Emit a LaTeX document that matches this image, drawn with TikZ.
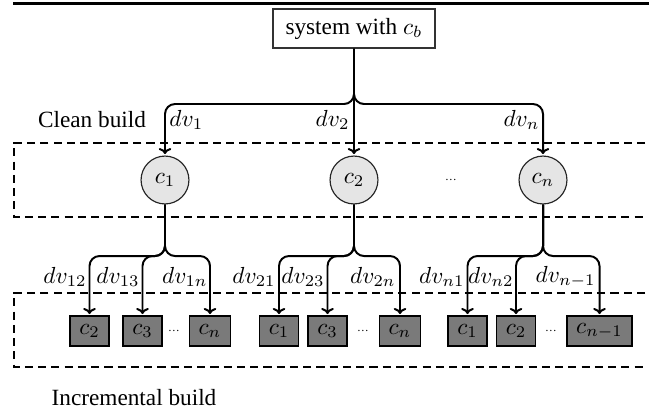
\documentclass[tikz,border=0pt]{standalone}
\usepackage{fontspec}
\setmainfont{Liberation Serif}
\usetikzlibrary{arrows.meta}
\begin{document}
\begin{tikzpicture}[x=0.43pt,y=-0.43pt,
  conn/.style={line width=0.85pt, rounded corners=4.3pt, -{Computer Modern Rightarrow[length=2.6pt,width=5.4pt]}, shorten >=0.6pt},
  sysbox/.style={draw=black!80, line width=0.5pt, minimum width=69.7pt, minimum height=16.8pt, inner sep=0pt},
  compcirc/.style={circle, draw=black!85, fill=black!10, line width=0.5pt, minimum size=20.6pt, inner sep=0pt},
  compsq/.style={draw=black, fill=black!52, line width=0.5pt, minimum width=15pt, minimum height=12.9pt, inner xsep=4pt, inner ysep=0pt},
  lbl/.style={anchor=east, inner sep=0pt},
  lblw/.style={anchor=west, inner sep=0pt},
  zone/.style={dash pattern=on 3.5pt off 2.2pt, line width=0.8pt},
  dotsl/.style={font=\tiny, inner sep=0pt},
  rule/.style={line width=1pt}]
\useasboundingbox (0,0) rectangle (649,411);

% top rule
\draw[rule] (13,3.5) -- (649,3.5);

% dashed zones (open to the right)
\draw[zone] (645,143) -- (14,143) -- (14,217) -- (645,217);
\draw[zone] (645,293) -- (14,293) -- (14,367) -- (645,367);

% nodes
\node[sysbox] (sys) at (354,28.5) {system with $c_b$};
\node (clean) at (92,120) {Clean build};
\node (incr) at (134,398) {Incremental build};

\node[compcirc] (c1) at (165,180) {$c_1$};
\node[compcirc] (c2) at (354,180) {$c_2$};
\node[compcirc] (cn) at (543,180) {$c_n$};
\node[dotsl] (cdots) at (451,180) {…};

\node[compsq] (s12) at (89.5,331) {$c_2$};
\node[compsq] (s13) at (142.5,331) {$c_3$};
\node[compsq] (s1n) at (210,331) {$c_n$};
\node[dotsl] (d1) at (174,331) {…};

\node[compsq] (s21) at (279,331) {$c_1$};
\node[compsq] (s23) at (327.5,331) {$c_3$};
\node[compsq] (s2n) at (400,331) {$c_n$};
\node[dotsl] (d2) at (363,331) {…};

\node[compsq] (sn1) at (467.5,331) {$c_1$};
\node[compsq] (sn2) at (516,331) {$c_2$};
\node[compsq] (snm) at (599.5,331) {$c_{n-1}$};
\node[dotsl] (d3) at (551,331) {…};

% junction points
\coordinate (j0) at (354,104);
\coordinate (j1) at (165,256);
\coordinate (j2) at (354,256);
\coordinate (j3) at (543,256);

% connectors, level 1
\draw[conn] (sys.south) -- (j0) -| (c1.north);
\draw[conn] (sys.south) -- (c2.north);
\draw[conn] (sys.south) -- (j0) -| (cn.north);

% connectors, level 2
\draw[conn] (c1.south) -- (j1) -| (s12.north);
\draw[conn] (c1.south) -- (j1) -| (s13.north);
\draw[conn] (c1.south) -- (j1) -| (s1n.north);
\draw[conn] (c2.south) -- (j2) -| (s21.north);
\draw[conn] (c2.south) -- (j2) -| (s23.north);
\draw[conn] (c2.south) -- (j2) -| (s2n.north);
\draw[conn] (cn.south) -- (j3) -| (sn1.north);
\draw[conn] (cn.south) -- (j3) -| (sn2.north);
\draw[conn] (cn.south) -- (j3) -| (snm.north);

% labels level 1
\node[lblw] (l1) at (169,120) {$dv_1$};
\node[lbl] (l2) at (350,120) {$dv_2$};
\node[lbl] (ln) at (540,120) {$dv_n$};

% labels level 2
\node[lbl] (l12) at (87,277) {$dv_{12}$};
\node[lbl] (l13) at (140,277) {$dv_{13}$};
\node[lbl] (l1n) at (208,277) {$dv_{1n}$};
\node[lbl] (l21) at (276,277) {$dv_{21}$};
\node[lbl] (l23) at (325,277) {$dv_{23}$};
\node[lbl] (l2n) at (396,277) {$dv_{2n}$};
\node[lbl] (ln1) at (465,277) {$dv_{n1}$};
\node[lbl] (ln2) at (514,277) {$dv_{n2}$};
\node[lbl] (lnm) at (596,277) {$dv_{n-1}$};
\end{tikzpicture}
\end{document}
